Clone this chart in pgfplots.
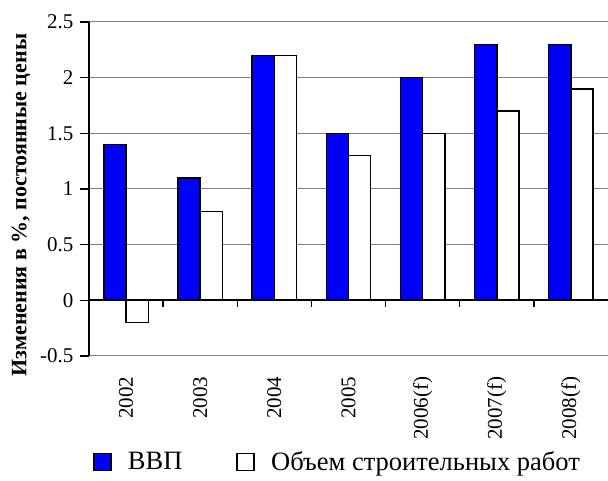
\documentclass[border=0pt]{standalone}
\usepackage{pgfplots}
\pgfplotsset{compat=1.18}
\usepackage{fontspec}
\setmainfont{Liberation Serif}
\definecolor{barblue}{RGB}{0,0,255}
\begin{document}
\begin{tikzpicture}
\path[use as bounding box] (0,0) rectangle (608pt,481pt);
\begin{axis}[
  at={(89pt,125pt)}, anchor=south west,
  width=519pt, height=334pt, scale only axis,
  xmin=-0.5, xmax=6.5, ymin=-0.5, ymax=2.5,
  axis lines*=left,
  x axis line style={draw=none},
  y axis line style={black, line width=2pt},
  xtick={0,1,2,3,4,5,6},
  xticklabels={2002,2003,2004,2005,2006(f),2007(f),2008(f)},
  xtick style={draw=none},
  xticklabel shift={8pt},
  x tick label style={rotate=90, anchor=east, font=\fontsize{21}{24}\selectfont},
  ytick={-0.5,0,0.5,1,1.5,2,2.5},
  yticklabels={-0.5,0,0.5,1,1.5,2,2.5},
  y tick style={black, line width=1.5pt},
  tick align=outside, major tick length=9pt,
  yticklabel shift={3pt},
  y tick label style={font=\fontsize{21}{24}\selectfont},
  ymajorgrids,
  grid style={gray, line width=1pt},
  ylabel={\bfseries Изменения в \%, постоянные цены},
  ylabel style={font=\fontsize{22}{25}\selectfont, at={(axis description cs:-0.131,0.452)}, anchor=center},
  legend columns=2,
  legend style={draw=none, fill=none, at={(axis description cs:0.002,-0.317)}, anchor=west,
    font=\fontsize{26.5}{29}\selectfont,
    /tikz/every even column/.append style={column sep=52pt}},
  legend image code/.code={\draw[#1, line width=1.5pt] (0pt,-8.5pt) rectangle (17pt,8.5pt); \path[draw=none,fill=none] (0pt,0pt) -- (32pt,0pt);},
]
\addplot[ybar, bar width=0.3, bar shift=-0.15, fill=barblue, draw=black, line width=1.5pt]
  coordinates {(0,1.4) (1,1.1) (2,2.2) (3,1.5) (4,2.0) (5,2.3) (6,2.3)};
\addlegendentry{ВВП}
\addplot[ybar, bar width=0.3, bar shift=0.15, fill=white, draw=black, line width=1.5pt]
  coordinates {(0,-0.2) (1,0.8) (2,2.2) (3,1.3) (4,1.5) (5,1.7) (6,1.9)};
\addlegendentry{Объем строительных работ}
\draw[black, line width=2pt] (axis cs:-0.5,0) -- (axis cs:6.5,0);
\pgfplotsinvokeforeach{0.5,1.5,2.5,3.5,4.5,5.5}{\draw[black, line width=1.5pt] (axis cs:#1,0) -- ++(0pt,-7pt);}
\end{axis}
\end{tikzpicture}
\end{document}
